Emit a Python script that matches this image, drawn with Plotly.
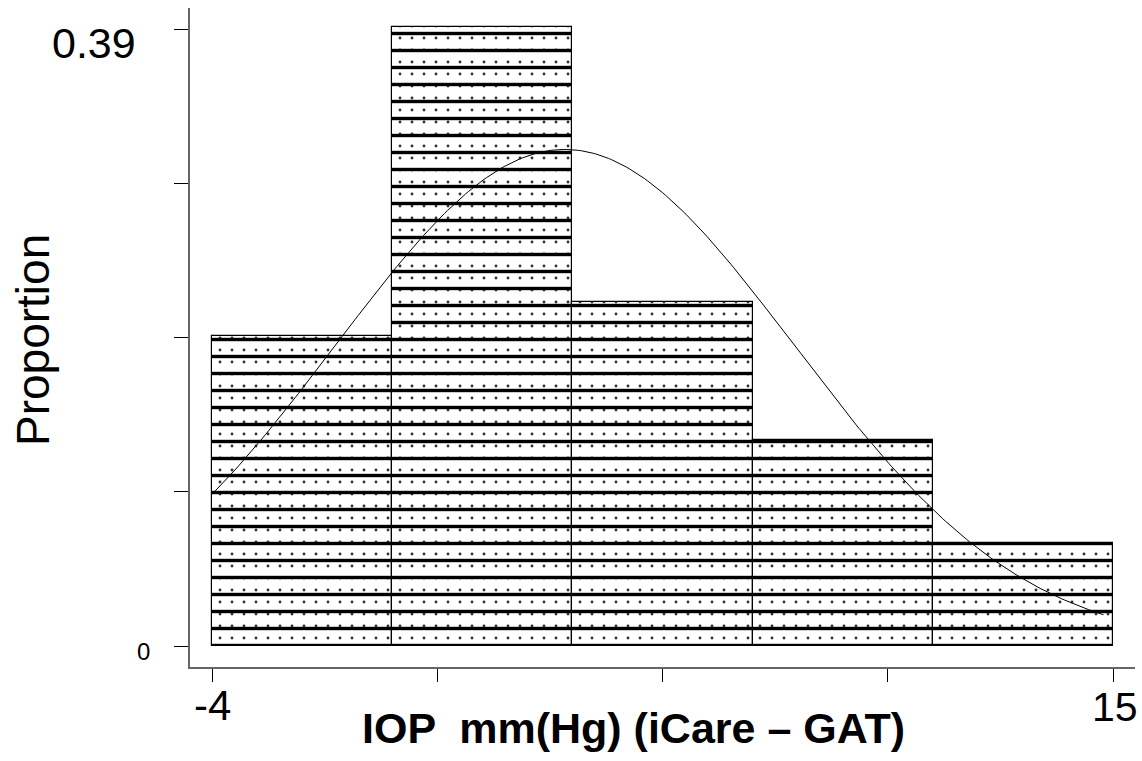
import numpy as np
import plotly.graph_objects as go

# Histogram data (proportions per bin)
bin_left = [-4.0, -0.2, 3.6, 7.4, 11.2]
bin_width = 3.8
proportions = [9/46, 18/46, 10/46, 6/46, 3/46]

# Normal fit parameters
fit_mean = 3.44
fit_sd = 4.83
curve_start, curve_end = -4.0, 14.8

x_ticks = [-4, 0.75, 5.5, 10.25, 15]
y_ticks = [0, 0.0975, 0.195, 0.2925, 0.39]

centers = [b + bin_width / 2 for b in bin_left]

cx = np.linspace(curve_start, curve_end, 300)
cy = bin_width * np.exp(-0.5 * ((cx - fit_mean) / fit_sd) ** 2) / (fit_sd * np.sqrt(2 * np.pi))

FONT = "Arial, Liberation Sans, sans-serif"

fig = go.Figure()
# dotted fill
fig.add_trace(go.Bar(
    x=centers, y=proportions, width=[bin_width] * 5,
    marker=dict(color="white",
                pattern=dict(shape=".", size=12, solidity=0.045, fgcolor="#333333",
                             fgopacity=1),
                line=dict(width=0)),
    hoverinfo="skip", showlegend=False))
# horizontal stripes + outline
fig.add_trace(go.Bar(
    x=centers, y=proportions, width=[bin_width] * 5,
    marker=dict(color="rgba(255,255,255,0)",
                pattern=dict(shape="-", size=17, solidity=0.2, fgcolor="black",
                             fgopacity=1, bgcolor="rgba(255,255,255,0)"),
                line=dict(width=1.2, color="black")),
    hoverinfo="skip", showlegend=False))
fig.add_trace(go.Scatter(x=cx, y=cy, mode="lines",
                         line=dict(color="black", width=1), hoverinfo="skip",
                         showlegend=False))

pad_y = 21 / 617 * 0.39
pad_x = 22 / 901 * 19

fig.update_layout(
    width=1142, height=761,
    margin=dict(l=190, r=7, t=8, b=94),
    plot_bgcolor="white", paper_bgcolor="white",
    barmode="overlay", bargap=0,
    font=dict(family=FONT, color="black"),
    xaxis=dict(range=[x_ticks[0] - pad_x, x_ticks[-1] + pad_x],
               tickvals=x_ticks, showticklabels=False,
               ticks="outside", ticklen=13, tickwidth=1, tickcolor="black",
               showline=True, linecolor="#666", linewidth=2,
               showgrid=False, zeroline=False),
    yaxis=dict(range=[y_ticks[0] - pad_y, y_ticks[-1] + pad_y],
               tickvals=y_ticks, showticklabels=False,
               ticks="outside", ticklen=14, tickwidth=1, tickcolor="black",
               showline=True, linecolor="#666", linewidth=2,
               showgrid=False, zeroline=False),
)

ann = []
ann.append(dict(text="0.39", xref="paper", x=0, xanchor="right", xshift=-52,
                yref="y", y=y_ticks[-1], yanchor="middle", yshift=-14,
                showarrow=False, font=dict(size=43)))
ann.append(dict(text="0", xref="paper", x=0, xanchor="right", xshift=-38,
                yref="y", y=y_ticks[0], yanchor="middle", yshift=-5,
                showarrow=False, font=dict(size=24)))
ann.append(dict(text="-4", xref="x", x=x_ticks[0], xanchor="center",
                yref="paper", y=0, yanchor="middle", yshift=-38,
                showarrow=False, font=dict(size=42)))
ann.append(dict(text="15", xref="x", x=x_ticks[-1], xanchor="center", xshift=2,
                yref="paper", y=0, yanchor="middle", yshift=-40,
                showarrow=False, font=dict(size=41)))
ann.append(dict(text="<b>IOP  mm(Hg) (iCare – GAT)</b>", xref="paper", x=(633 - 190) / 945,
                xanchor="center", yref="paper", y=0, yanchor="middle", yshift=-61,
                showarrow=False, font=dict(size=43)))
ann.append(dict(text="Proportion", xref="paper", x=0, xanchor="center", xshift=-157,
                yref="paper", y=(667 - 340) / 659, yanchor="middle",
                textangle=-90, showarrow=False, font=dict(size=46)))
fig.update_layout(annotations=ann)

fig.write_html(
    "out.html",
    config={"displayModeBar": False},
    post_script="document.body.style.margin='0';document.body.style.overflow='hidden';"
                "document.documentElement.style.overflow='hidden';",
)
